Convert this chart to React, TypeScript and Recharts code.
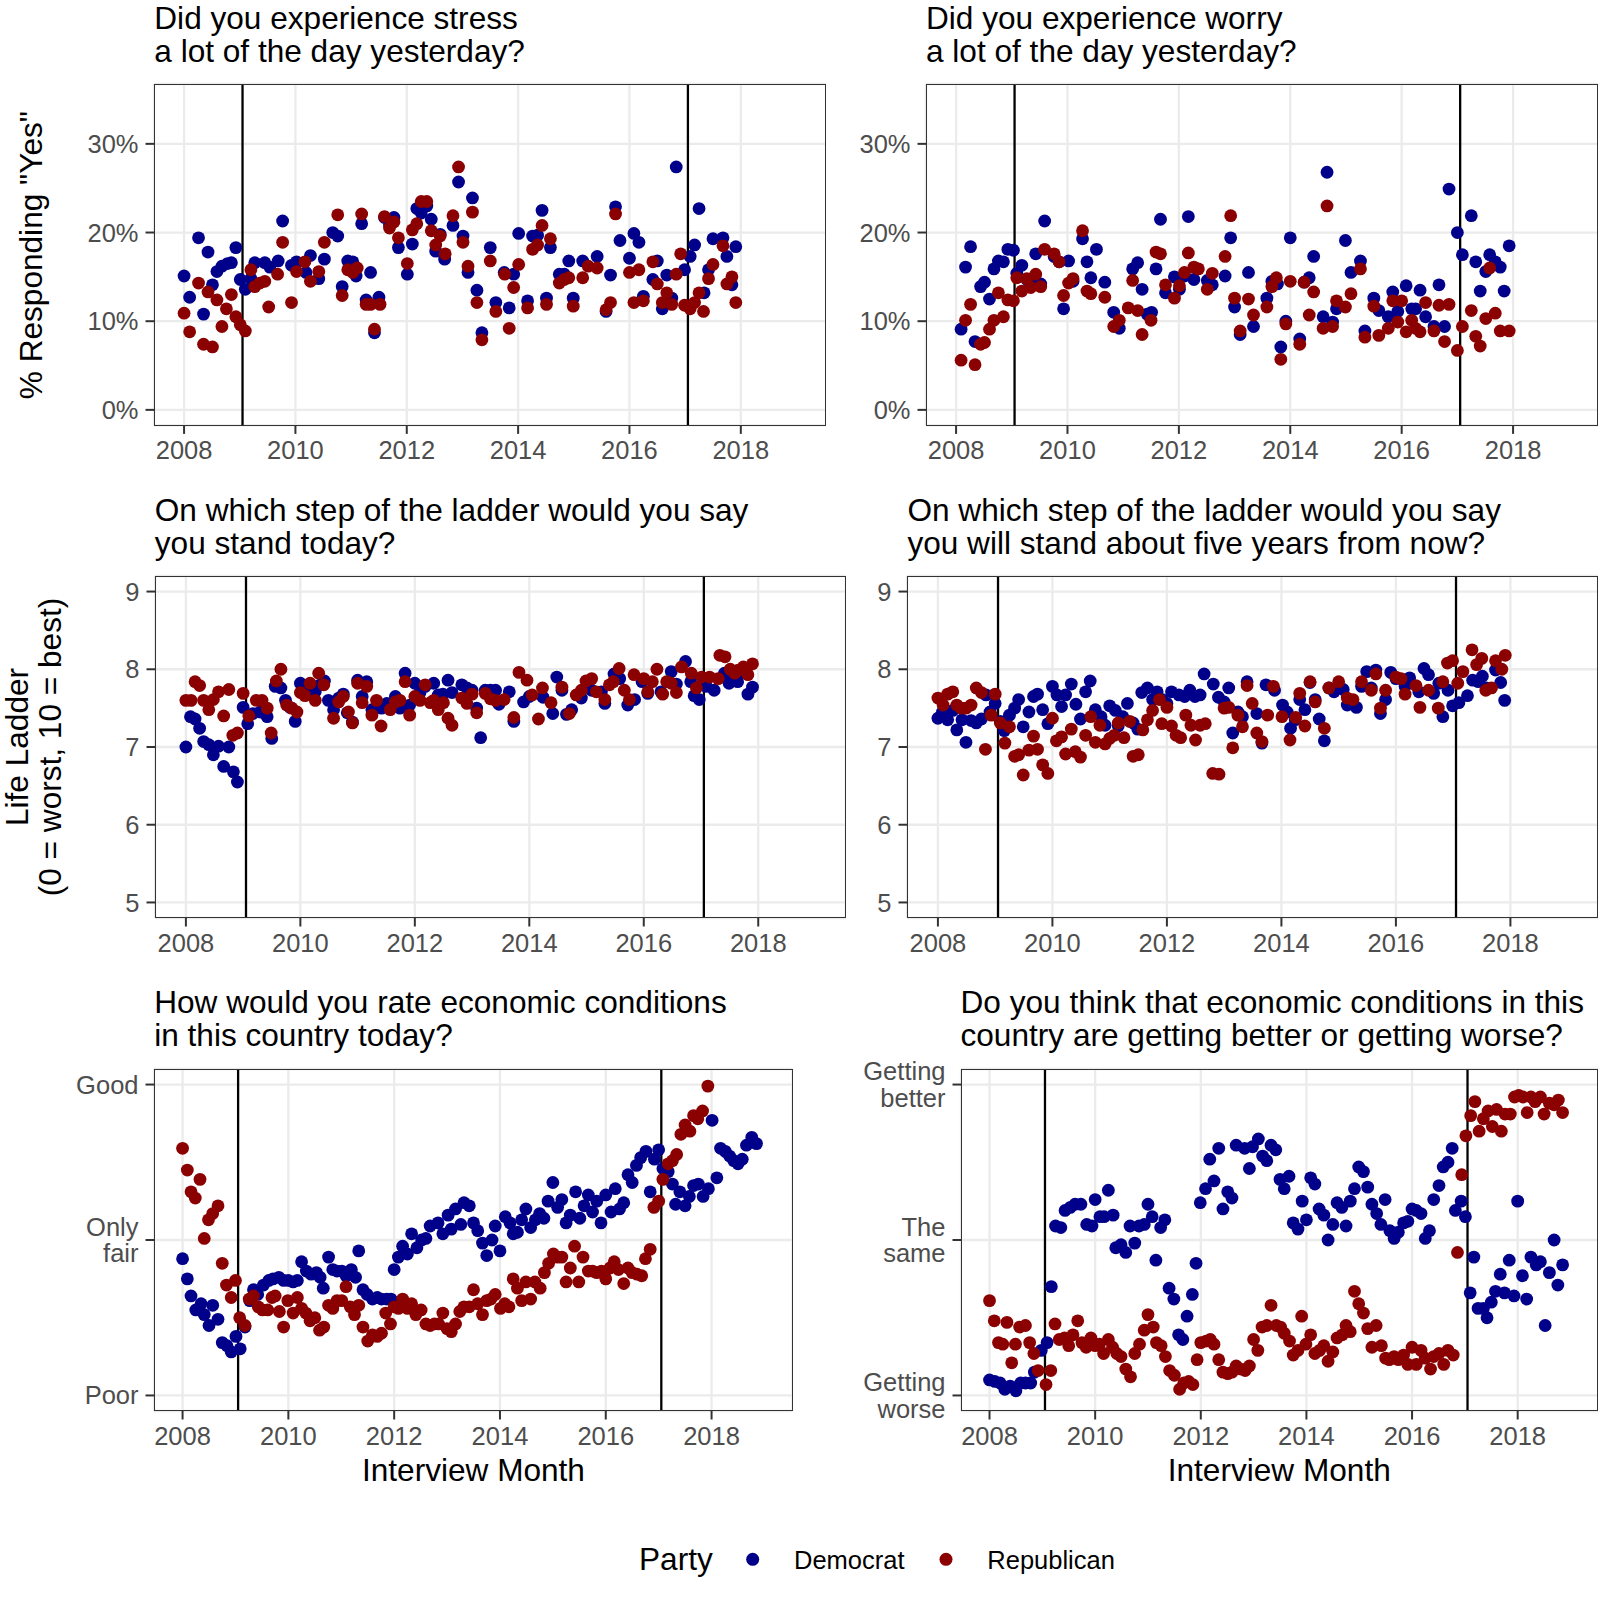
import React from 'react';
import { ScatterChart, Scatter, XAxis, YAxis, CartesianGrid, ReferenceLine } from 'recharts';

const FONT = '"Liberation Sans", Arial, Helvetica, sans-serif';
const DEM = '#00008B';
const REP = '#8B0000';
const X_DOMAIN: [number, number] = [2007.46, 2019.53];
const X_TICKS = [2008, 2010, 2012, 2014, 2016, 2018];
const X_MINOR = [2009, 2011, 2013, 2015, 2017, 2019];
const INAUGURATIONS = [2009.05, 2017.05];

const PCT_DOMAIN: [number, number] = [-1.75, 36.75];
const PCT_TICKS = [0, 10, 20, 30];
const PCT_MINOR = [5, 15, 25, 35];
const LADDER_DOMAIN: [number, number] = [4.8, 9.2];
const LADDER_TICKS = [5, 6, 7, 8, 9];
const LADDER_MINOR = [5.5, 6.5, 7.5, 8.5];
const ECON_DOMAIN: [number, number] = [0.9, 3.1];
const ECON_TICKS = [1, 2, 3];
const ECON_MINOR = [1.5, 2.5];
const ECON_NOW_LABELS: Record<number, string[]> = { 1: ['Poor'], 2: ['Only', 'fair'], 3: ['Good'] };
const ECON_DIR_LABELS: Record<number, string[]> = { 1: ['Getting', 'worse'], 2: ['The', 'same'], 3: ['Getting', 'better'] };

// Panel 1: stress (% yes)
const stressDem: [number, number][] = [[2008.00,15.1],[2008.10,12.7],[2008.26,19.4],[2008.35,10.8],[2008.43,17.8],[2008.51,14.1],[2008.59,15.6],[2008.68,16.2],[2008.78,16.5],[2008.85,16.6],[2008.93,18.3],[2009.01,14.7],[2009.10,13.6],[2009.20,14.8],[2009.27,16.6],[2009.45,16.6],[2009.54,16.1],[2009.69,16.8],[2009.77,21.3],[2009.93,16.3],[2010.02,16.7],[2010.19,15.5],[2010.27,17.4],[2010.42,14.8],[2010.52,17.0],[2010.67,20.0],[2010.76,19.6],[2010.84,13.9],[2010.94,16.8],[2011.03,16.7],[2011.09,15.1],[2011.19,21.0],[2011.27,12.4],[2011.35,15.5],[2011.42,8.7],[2011.50,12.7],[2011.60,21.7],[2011.69,20.9],[2011.77,21.7],[2011.85,18.3],[2012.01,15.3],[2012.10,18.7],[2012.18,22.7],[2012.26,22.2],[2012.36,23.0],[2012.44,21.5],[2012.52,17.9],[2012.60,19.8],[2012.68,17.0],[2012.83,20.8],[2012.93,25.7],[2013.01,19.6],[2013.10,15.5],[2013.18,23.9],[2013.26,13.5],[2013.35,8.7],[2013.50,18.3],[2013.60,12.1],[2013.75,15.5],[2013.84,11.5],[2013.92,15.3],[2014.01,19.9],[2014.17,12.3],[2014.26,19.6],[2014.35,19.7],[2014.43,22.5],[2014.51,12.6],[2014.58,18.3],[2014.74,15.3],[2014.83,15.3],[2014.91,16.8],[2014.99,12.6],[2015.16,16.8],[2015.42,17.3],[2015.58,11.1],[2015.66,15.2],[2015.75,22.9],[2015.83,19.1],[2016.00,17.1],[2016.08,19.9],[2016.17,18.9],[2016.25,12.8],[2016.42,14.7],[2016.50,16.8],[2016.59,11.4],[2016.67,15.2],[2016.76,12.6],[2016.84,27.4],[2016.99,15.8],[2017.09,17.3],[2017.17,18.6],[2017.25,22.7],[2017.34,13.2],[2017.42,15.8],[2017.50,19.3],[2017.68,19.4],[2017.75,17.3],[2017.84,14.1],[2017.91,18.4]];
const stressRep: [number, number][] = [[2008.00,10.9],[2008.10,8.8],[2008.26,14.3],[2008.35,7.4],[2008.43,13.3],[2008.51,7.1],[2008.59,12.4],[2008.68,9.4],[2008.76,11.4],[2008.85,13.0],[2008.93,10.5],[2009.01,9.6],[2009.10,8.9],[2009.20,15.8],[2009.27,13.9],[2009.36,14.3],[2009.45,14.5],[2009.52,11.6],[2009.68,15.3],[2009.77,18.9],[2009.93,12.1],[2010.02,15.6],[2010.17,16.7],[2010.27,14.5],[2010.42,15.6],[2010.52,18.9],[2010.76,22.0],[2010.84,12.9],[2010.94,15.8],[2011.03,15.5],[2011.11,16.0],[2011.19,22.1],[2011.27,11.9],[2011.35,11.9],[2011.42,9.1],[2011.52,11.9],[2011.60,21.8],[2011.69,20.5],[2011.77,21.2],[2011.85,19.4],[2012.01,16.5],[2012.10,20.3],[2012.18,21.0],[2012.26,23.5],[2012.36,23.5],[2012.44,20.2],[2012.52,18.6],[2012.60,19.6],[2012.69,17.6],[2012.83,21.9],[2012.93,27.4],[2013.01,18.9],[2013.10,16.2],[2013.18,22.3],[2013.26,12.1],[2013.35,7.9],[2013.50,16.8],[2013.60,11.1],[2013.76,15.3],[2013.84,9.2],[2013.92,13.8],[2014.01,16.4],[2014.17,11.5],[2014.26,18.1],[2014.35,18.6],[2014.43,20.8],[2014.51,11.9],[2014.58,19.3],[2014.74,14.3],[2014.83,14.7],[2014.91,14.9],[2014.99,11.7],[2015.16,14.9],[2015.26,16.2],[2015.42,16.0],[2015.58,11.3],[2015.66,12.1],[2015.75,22.1],[2016.00,15.5],[2016.08,12.1],[2016.17,15.8],[2016.25,12.3],[2016.42,16.7],[2016.50,14.2],[2016.59,12.1],[2016.67,13.2],[2016.76,11.9],[2016.84,15.3],[2016.92,17.6],[2016.99,11.8],[2017.09,11.4],[2017.17,12.1],[2017.25,13.2],[2017.33,11.1],[2017.42,14.8],[2017.50,16.4],[2017.68,18.5],[2017.75,14.2],[2017.84,15.0],[2017.91,12.1]];

// Panel 2: worry (% yes)
const worryDem: [number, number][] = [[2008.09,9.1],[2008.17,16.1],[2008.26,18.4],[2008.34,7.7],[2008.44,13.9],[2008.51,14.4],[2008.60,12.5],[2008.68,15.9],[2008.76,16.8],[2008.85,16.7],[2008.93,18.1],[2009.03,18.0],[2009.09,15.4],[2009.18,16.3],[2009.27,14.7],[2009.34,14.2],[2009.43,17.6],[2009.52,14.2],[2009.59,21.3],[2009.76,17.3],[2009.85,16.7],[2009.93,11.4],[2010.02,16.8],[2010.10,14.5],[2010.27,19.3],[2010.35,16.7],[2010.42,14.9],[2010.52,18.1],[2010.67,14.4],[2010.83,11.0],[2010.93,9.2],[2011.17,15.9],[2011.26,16.6],[2011.34,13.6],[2011.43,10.8],[2011.51,11.0],[2011.59,15.9],[2011.67,21.5],[2011.76,13.2],[2011.92,15.0],[2012.01,13.6],[2012.10,15.1],[2012.17,21.8],[2012.27,14.7],[2012.51,14.6],[2012.60,14.1],[2012.83,15.1],[2012.93,19.4],[2013.00,11.6],[2013.10,8.5],[2013.25,15.5],[2013.34,9.4],[2013.58,12.6],[2013.67,14.5],[2013.77,14.2],[2013.83,7.1],[2013.92,10.0],[2014.00,19.4],[2014.17,8.0],[2014.25,14.4],[2014.34,14.9],[2014.42,17.3],[2014.59,10.5],[2014.66,26.8],[2014.76,9.9],[2014.83,11.4],[2014.99,19.1],[2015.09,15.5],[2015.26,16.8],[2015.34,8.9],[2015.50,12.6],[2015.59,11.2],[2015.76,10.5],[2015.84,13.3],[2015.93,11.1],[2016.08,14.0],[2016.18,11.4],[2016.25,11.4],[2016.33,13.5],[2016.43,10.5],[2016.58,9.4],[2016.67,14.1],[2016.77,9.4],[2016.85,24.9],[2017.00,20.0],[2017.09,17.5],[2017.25,21.9],[2017.33,16.7],[2017.41,13.4],[2017.51,15.6],[2017.58,17.5],[2017.68,16.7],[2017.77,16.1],[2017.84,13.4],[2017.93,18.5]];
const worryRep: [number, number][] = [[2008.09,5.6],[2008.17,10.1],[2008.26,11.9],[2008.34,5.1],[2008.44,7.4],[2008.51,7.6],[2008.60,9.1],[2008.68,10.1],[2008.76,13.2],[2008.85,10.5],[2008.93,12.4],[2009.03,12.3],[2009.09,14.9],[2009.18,13.4],[2009.27,14.8],[2009.34,13.8],[2009.43,15.3],[2009.52,13.9],[2009.59,18.1],[2009.76,17.6],[2009.85,16.7],[2009.93,12.9],[2010.02,14.3],[2010.10,14.8],[2010.27,20.2],[2010.35,13.4],[2010.42,13.1],[2010.67,12.7],[2010.83,9.4],[2010.93,10.1],[2011.09,11.5],[2011.17,14.6],[2011.26,11.2],[2011.34,8.5],[2011.50,10.1],[2011.59,17.8],[2011.67,17.6],[2011.76,14.1],[2011.92,12.6],[2012.01,14.0],[2012.10,15.5],[2012.17,17.7],[2012.27,16.1],[2012.35,15.9],[2012.51,13.6],[2012.60,15.4],[2012.83,17.3],[2012.93,21.9],[2013.00,12.6],[2013.10,8.9],[2013.25,12.5],[2013.34,10.7],[2013.58,11.6],[2013.67,13.9],[2013.75,14.9],[2013.83,5.7],[2013.92,9.7],[2014.00,14.5],[2014.17,7.4],[2014.25,14.4],[2014.34,10.7],[2014.42,13.3],[2014.59,9.2],[2014.66,23.0],[2014.76,9.4],[2014.83,12.3],[2014.99,11.6],[2015.09,13.1],[2015.26,15.9],[2015.34,8.2],[2015.50,11.7],[2015.59,8.4],[2015.76,9.2],[2015.84,12.3],[2015.93,9.9],[2016.00,12.3],[2016.08,8.8],[2016.18,10.1],[2016.25,9.2],[2016.33,8.8],[2016.43,12.1],[2016.58,8.9],[2016.67,11.8],[2016.77,7.7],[2016.85,11.9],[2017.00,6.7],[2017.09,9.4],[2017.25,11.2],[2017.33,8.3],[2017.41,7.2],[2017.51,10.3],[2017.58,16.0],[2017.68,10.9],[2017.77,8.9],[2017.93,8.9]];

// Panel 3: life ladder today
const ladderNowDem: [number, number][] = [[2008.00,7.00],[2008.08,7.39],[2008.16,7.36],[2008.24,7.24],[2008.31,7.07],[2008.40,7.03],[2008.48,6.90],[2008.57,7.01],[2008.66,6.75],[2008.75,7.00],[2008.83,6.68],[2008.90,6.55],[2009.00,7.51],[2009.08,7.30],[2009.17,7.43],[2009.30,7.45],[2009.42,7.39],[2009.50,7.11],[2009.56,7.78],[2009.66,7.76],[2009.74,7.60],[2009.82,7.51],[2009.91,7.33],[2010.00,7.82],[2010.08,7.73],[2010.17,7.80],[2010.26,7.71],[2010.35,7.80],[2010.42,7.85],[2010.49,7.60],[2010.58,7.48],[2010.67,7.63],[2010.75,7.68],[2010.82,7.44],[2010.91,7.32],[2011.00,7.86],[2011.08,7.65],[2011.16,7.84],[2011.25,7.48],[2011.34,7.51],[2011.42,7.50],[2011.51,7.56],[2011.57,7.50],[2011.66,7.65],[2011.74,7.50],[2011.83,7.95],[2011.91,7.54],[2012.00,7.82],[2012.09,7.70],[2012.18,7.78],[2012.33,7.82],[2012.41,7.67],[2012.49,7.68],[2012.58,7.86],[2012.65,7.70],[2012.82,7.80],[2012.91,7.76],[2013.00,7.73],[2013.08,7.50],[2013.15,7.12],[2013.23,7.73],[2013.32,7.73],[2013.41,7.73],[2013.47,7.55],[2013.65,7.71],[2013.73,7.33],[2013.90,7.58],[2014.00,7.65],[2014.24,7.64],[2014.41,7.43],[2014.48,7.90],[2014.57,7.73],[2014.65,7.42],[2014.74,7.48],[2014.91,7.63],[2015.09,7.73],[2015.26,7.71],[2015.32,7.56],[2015.48,7.94],[2015.58,7.88],[2015.72,7.54],[2015.84,7.61],[2015.97,7.84],[2016.07,7.69],[2016.30,7.71],[2016.48,7.97],[2016.57,7.81],[2016.73,8.10],[2016.82,7.84],[2016.88,7.66],[2016.97,7.61],[2017.09,7.78],[2017.23,7.73],[2017.41,7.95],[2017.49,7.82],[2017.64,7.84],[2017.74,7.96],[2017.82,7.68],[2017.90,7.77]];
const ladderNowRep: [number, number][] = [[2008.00,7.60],[2008.09,7.60],[2008.16,7.84],[2008.24,7.79],[2008.31,7.60],[2008.40,7.48],[2008.48,7.61],[2008.57,7.71],[2008.66,7.40],[2008.75,7.74],[2008.82,7.15],[2008.90,7.18],[2009.00,7.69],[2009.10,7.40],[2009.23,7.60],[2009.33,7.60],[2009.42,7.50],[2009.49,7.18],[2009.58,7.85],[2009.66,8.00],[2009.76,7.54],[2009.85,7.50],[2009.94,7.45],[2010.00,7.70],[2010.08,7.66],[2010.17,7.82],[2010.26,7.60],[2010.32,7.95],[2010.41,7.80],[2010.58,7.37],[2010.67,7.58],[2010.75,7.65],[2010.84,7.45],[2010.91,7.31],[2011.00,7.82],[2011.08,7.57],[2011.16,7.78],[2011.25,7.41],[2011.33,7.60],[2011.41,7.27],[2011.57,7.48],[2011.66,7.58],[2011.74,7.60],[2011.83,7.84],[2011.91,7.41],[2012.00,7.65],[2012.09,7.60],[2012.18,7.80],[2012.27,7.57],[2012.33,7.60],[2012.41,7.48],[2012.50,7.57],[2012.58,7.37],[2012.65,7.28],[2012.82,7.63],[2012.91,7.56],[2013.00,7.68],[2013.08,7.44],[2013.23,7.69],[2013.32,7.62],[2013.41,7.60],[2013.56,7.61],[2013.73,7.38],[2013.82,7.96],[2013.96,7.86],[2014.05,7.67],[2014.16,7.36],[2014.23,7.76],[2014.38,7.57],[2014.57,7.77],[2014.70,7.43],[2014.82,7.67],[2014.91,7.73],[2014.99,7.85],[2015.09,7.88],[2015.17,7.71],[2015.32,7.61],[2015.40,7.80],[2015.47,7.84],[2015.57,8.01],[2015.66,7.73],[2015.75,7.61],[2015.83,7.93],[2016.00,7.88],[2016.07,7.71],[2016.15,7.84],[2016.23,8.00],[2016.33,7.68],[2016.40,7.84],[2016.48,7.82],[2016.57,7.70],[2016.66,8.03],[2016.83,7.95],[2016.92,7.76],[2017.01,7.90],[2017.15,7.90],[2017.30,7.88],[2017.33,8.18],[2017.42,8.16],[2017.51,8.00],[2017.59,7.95],[2017.65,7.99],[2017.74,8.03],[2017.82,7.93],[2017.90,8.07]];

// Panel 4: life ladder in five years
const ladderFutDem: [number, number][] = [[2008.00,7.37],[2008.08,7.45],[2008.17,7.35],[2008.26,7.47],[2008.33,7.22],[2008.42,7.35],[2008.49,7.06],[2008.58,7.34],[2008.67,7.31],[2008.76,7.36],[2008.84,7.67],[2008.91,7.45],[2009.00,7.56],[2009.09,7.33],[2009.16,7.21],[2009.25,7.41],[2009.34,7.50],[2009.41,7.61],[2009.49,7.26],[2009.59,7.45],[2009.67,7.65],[2009.74,7.68],[2009.83,7.48],[2009.92,7.30],[2010.00,7.78],[2010.08,7.67],[2010.16,7.52],[2010.23,7.67],[2010.33,7.81],[2010.41,7.55],[2010.49,7.36],[2010.58,7.71],[2010.66,7.85],[2010.75,7.48],[2010.85,7.39],[2010.92,7.28],[2011.00,7.53],[2011.10,7.47],[2011.15,7.27],[2011.23,7.39],[2011.31,7.56],[2011.41,7.31],[2011.49,7.23],[2011.56,7.70],[2011.66,7.76],[2011.75,7.61],[2011.83,7.71],[2011.92,7.61],[2012.00,7.56],[2012.08,7.71],[2012.21,7.67],[2012.31,7.65],[2012.40,7.73],[2012.49,7.65],[2012.58,7.67],[2012.65,7.94],[2012.81,7.81],[2012.90,7.64],[2013.00,7.58],[2013.08,7.76],[2013.15,7.18],[2013.24,7.45],[2013.32,7.39],[2013.40,7.84],[2013.57,7.43],[2013.66,7.05],[2013.73,7.80],[2013.88,7.73],[2014.02,7.54],[2014.10,7.45],[2014.16,7.24],[2014.24,7.35],[2014.32,7.61],[2014.41,7.48],[2014.50,7.83],[2014.59,7.61],[2014.66,7.36],[2014.75,7.08],[2014.83,7.76],[2014.92,7.71],[2015.08,7.74],[2015.15,7.54],[2015.31,7.51],[2015.40,7.78],[2015.49,7.97],[2015.57,7.76],[2015.65,7.99],[2015.73,7.43],[2015.82,7.61],[2015.91,7.96],[2016.00,7.88],[2016.16,7.78],[2016.24,7.89],[2016.40,7.71],[2016.49,8.01],[2016.57,7.93],[2016.66,7.69],[2016.75,7.82],[2016.82,7.39],[2016.91,7.73],[2016.99,7.53],[2017.10,7.57],[2017.25,7.66],[2017.34,7.86],[2017.44,7.84],[2017.51,7.91],[2017.58,7.76],[2017.74,7.99],[2017.83,7.83],[2017.90,7.60]];
const ladderFutRep: [number, number][] = [[2008.00,7.63],[2008.09,7.54],[2008.17,7.68],[2008.26,7.71],[2008.33,7.54],[2008.41,7.50],[2008.49,7.50],[2008.58,7.54],[2008.67,7.76],[2008.76,7.70],[2008.83,6.97],[2008.93,7.41],[2009.00,7.68],[2009.09,7.31],[2009.17,7.05],[2009.25,7.26],[2009.34,6.88],[2009.41,6.90],[2009.49,6.64],[2009.59,6.96],[2009.67,7.14],[2009.74,6.97],[2009.83,6.77],[2009.92,6.66],[2010.00,7.37],[2010.07,7.08],[2010.16,7.13],[2010.23,6.91],[2010.33,7.23],[2010.40,6.94],[2010.49,6.87],[2010.58,7.15],[2010.67,7.39],[2010.75,7.06],[2010.83,7.28],[2010.92,7.04],[2011.00,7.11],[2011.08,7.15],[2011.15,7.31],[2011.25,7.12],[2011.35,7.33],[2011.41,6.88],[2011.50,6.90],[2011.58,7.22],[2011.66,7.35],[2011.75,7.47],[2011.87,7.61],[2011.91,7.30],[2012.00,7.51],[2012.08,7.27],[2012.16,7.15],[2012.24,7.12],[2012.33,7.41],[2012.42,7.28],[2012.50,7.09],[2012.58,7.28],[2012.67,7.30],[2012.80,6.66],[2012.91,6.65],[2013.00,7.50],[2013.08,7.51],[2013.15,6.99],[2013.24,7.41],[2013.32,7.26],[2013.40,7.79],[2013.49,7.56],[2013.57,7.18],[2013.66,7.07],[2013.76,7.41],[2013.86,7.78],[2014.01,7.39],[2014.15,7.09],[2014.25,7.38],[2014.32,7.69],[2014.41,7.27],[2014.50,7.84],[2014.59,7.58],[2014.75,7.24],[2014.83,7.76],[2015.00,7.84],[2015.15,7.63],[2015.25,7.61],[2015.40,7.84],[2015.57,7.73],[2015.65,7.94],[2015.73,7.50],[2015.82,7.73],[2016.00,7.90],[2016.09,7.88],[2016.16,7.68],[2016.35,7.79],[2016.42,7.51],[2016.57,7.73],[2016.74,7.50],[2016.82,7.84],[2016.90,8.08],[2016.99,8.11],[2017.08,7.82],[2017.17,7.97],[2017.33,8.25],[2017.41,8.06],[2017.50,8.14],[2017.57,7.73],[2017.67,7.76],[2017.74,8.11],[2017.85,8.00],[2017.91,8.18]];

// Panel 5: economic conditions today (1 = Poor, 2 = Only fair, 3 = Good)
const econNowDem: [number, number][] = [[2008.00,1.88],[2008.09,1.75],[2008.16,1.64],[2008.25,1.55],[2008.35,1.59],[2008.41,1.52],[2008.50,1.45],[2008.57,1.58],[2008.67,1.49],[2008.75,1.34],[2008.84,1.32],[2008.92,1.28],[2009.01,1.38],[2009.09,1.30],[2009.18,1.44],[2009.27,1.61],[2009.34,1.68],[2009.42,1.65],[2009.53,1.71],[2009.63,1.74],[2009.71,1.75],[2009.82,1.76],[2009.91,1.74],[2010.00,1.74],[2010.09,1.73],[2010.17,1.74],[2010.25,1.86],[2010.34,1.80],[2010.43,1.78],[2010.53,1.79],[2010.60,1.76],[2010.66,1.69],[2010.76,1.89],[2010.84,1.81],[2010.92,1.80],[2011.01,1.80],[2011.09,1.77],[2011.19,1.81],[2011.27,1.76],[2011.33,1.93],[2011.41,1.68],[2011.49,1.65],[2011.59,1.62],[2011.68,1.63],[2011.76,1.62],[2011.86,1.62],[2011.94,1.62],[2012.00,1.81],[2012.08,1.89],[2012.16,1.96],[2012.25,1.91],[2012.33,2.04],[2012.43,1.95],[2012.52,2.00],[2012.60,2.01],[2012.68,2.09],[2012.83,2.11],[2012.92,2.04],[2013.02,2.16],[2013.08,2.07],[2013.16,2.20],[2013.26,2.10],[2013.32,2.24],[2013.42,2.22],[2013.50,2.11],[2013.58,2.06],[2013.67,1.98],[2013.75,1.90],[2013.85,2.00],[2013.91,2.09],[2014.00,1.93],[2014.10,2.15],[2014.19,2.11],[2014.25,2.04],[2014.33,2.05],[2014.41,2.13],[2014.49,2.20],[2014.58,2.08],[2014.67,2.13],[2014.75,2.17],[2014.83,2.14],[2014.91,2.25],[2015.00,2.37],[2015.09,2.21],[2015.17,2.26],[2015.25,2.11],[2015.33,2.16],[2015.43,2.31],[2015.51,2.14],[2015.59,2.22],[2015.67,2.29],[2015.75,2.18],[2015.83,2.25],[2015.91,2.11],[2016.00,2.29],[2016.10,2.18],[2016.18,2.33],[2016.26,2.20],[2016.34,2.24],[2016.42,2.42],[2016.50,2.37],[2016.58,2.48],[2016.66,2.53],[2016.76,2.57],[2016.84,2.31],[2016.92,2.52],[2017.00,2.58],[2017.08,2.46],[2017.18,2.44],[2017.26,2.36],[2017.32,2.23],[2017.40,2.31],[2017.50,2.22],[2017.58,2.28],[2017.66,2.35],[2017.75,2.36],[2017.84,2.28],[2017.94,2.33],[2018.01,2.77],[2018.10,2.40],[2018.17,2.59],[2018.26,2.57],[2018.34,2.54],[2018.42,2.51],[2018.50,2.49],[2018.58,2.52],[2018.66,2.61],[2018.76,2.66],[2018.85,2.62]];
const econNowRep: [number, number][] = [[2008.00,2.59],[2008.09,2.45],[2008.16,2.31],[2008.24,2.27],[2008.33,2.39],[2008.41,2.01],[2008.49,2.13],[2008.57,2.17],[2008.67,2.22],[2008.75,1.85],[2008.83,1.71],[2008.92,1.63],[2009.00,1.74],[2009.08,1.50],[2009.18,1.45],[2009.26,1.62],[2009.34,1.64],[2009.43,1.57],[2009.51,1.55],[2009.61,1.55],[2009.69,1.63],[2009.75,1.64],[2009.83,1.54],[2009.91,1.44],[2009.99,1.61],[2010.09,1.53],[2010.17,1.63],[2010.25,1.56],[2010.33,1.53],[2010.41,1.48],[2010.50,1.50],[2010.59,1.42],[2010.67,1.44],[2010.76,1.58],[2010.84,1.56],[2010.92,1.61],[2011.01,1.61],[2011.09,1.70],[2011.17,1.57],[2011.25,1.52],[2011.33,1.58],[2011.41,1.44],[2011.50,1.35],[2011.59,1.39],[2011.68,1.38],[2011.76,1.40],[2011.84,1.53],[2011.93,1.46],[2012.00,1.57],[2012.08,1.56],[2012.16,1.62],[2012.25,1.56],[2012.33,1.59],[2012.41,1.52],[2012.51,1.55],[2012.60,1.46],[2012.68,1.45],[2012.76,1.46],[2012.84,1.46],[2012.92,1.53],[2013.00,1.43],[2013.08,1.41],[2013.16,1.46],[2013.24,1.54],[2013.32,1.57],[2013.42,1.57],[2013.50,1.68],[2013.58,1.59],[2013.67,1.52],[2013.75,1.61],[2013.83,1.62],[2013.91,1.65],[2014.01,1.56],[2014.09,1.59],[2014.17,1.57],[2014.25,1.75],[2014.33,1.69],[2014.41,1.61],[2014.49,1.73],[2014.58,1.62],[2014.66,1.73],[2014.76,1.69],[2014.84,1.79],[2014.92,1.85],[2015.01,1.91],[2015.09,1.89],[2015.17,1.89],[2015.25,1.73],[2015.33,1.82],[2015.41,1.96],[2015.49,1.73],[2015.57,1.89],[2015.67,1.80],[2015.75,1.80],[2015.83,1.79],[2015.92,1.80],[2016.00,1.75],[2016.08,1.82],[2016.16,1.86],[2016.24,1.81],[2016.34,1.72],[2016.42,1.82],[2016.50,1.79],[2016.59,1.78],[2016.68,1.77],[2016.75,1.88],[2016.84,1.94],[2016.91,2.21],[2017.00,2.25],[2017.08,2.39],[2017.18,2.49],[2017.26,2.51],[2017.34,2.55],[2017.42,2.68],[2017.50,2.74],[2017.59,2.70],[2017.66,2.80],[2017.74,2.78],[2017.83,2.83],[2017.93,2.99]];

// Panel 6: economy getting better/worse (1 = worse, 2 = same, 3 = better)
const econDirDem: [number, number][] = [[2008.00,1.10],[2008.10,1.09],[2008.20,1.08],[2008.29,1.04],[2008.39,1.06],[2008.50,1.03],[2008.59,1.08],[2008.68,1.08],[2008.78,1.08],[2008.85,1.15],[2008.98,1.29],[2009.09,1.34],[2009.17,1.70],[2009.25,2.09],[2009.35,2.08],[2009.43,2.19],[2009.53,2.21],[2009.62,2.23],[2009.73,2.23],[2009.84,2.10],[2009.94,2.09],[2010.00,2.26],[2010.09,2.15],[2010.17,2.15],[2010.25,2.32],[2010.34,2.16],[2010.39,1.95],[2010.49,1.97],[2010.58,1.92],[2010.66,2.09],[2010.75,1.98],[2010.83,2.09],[2010.93,2.10],[2011.00,2.23],[2011.08,2.15],[2011.15,1.87],[2011.24,2.08],[2011.32,2.13],[2011.40,1.69],[2011.49,1.62],[2011.58,1.39],[2011.66,1.36],[2011.74,1.51],[2011.84,1.65],[2011.91,1.85],[2011.99,2.24],[2012.09,2.33],[2012.17,2.52],[2012.25,2.38],[2012.34,2.59],[2012.42,2.20],[2012.51,2.31],[2012.59,2.27],[2012.67,2.61],[2012.83,2.59],[2012.92,2.46],[2012.98,2.60],[2013.09,2.65],[2013.17,2.54],[2013.25,2.51],[2013.33,2.61],[2013.42,2.58],[2013.50,2.39],[2013.58,2.33],[2013.67,2.41],[2013.75,2.11],[2013.84,2.07],[2013.92,2.25],[2014.00,2.13],[2014.08,2.40],[2014.16,2.36],[2014.24,2.20],[2014.33,2.16],[2014.41,2.00],[2014.50,2.10],[2014.58,2.24],[2014.67,2.21],[2014.75,2.09],[2014.83,2.25],[2014.91,2.33],[2014.99,2.47],[2015.08,2.44],[2015.16,2.34],[2015.24,2.23],[2015.33,2.17],[2015.41,2.10],[2015.49,2.26],[2015.58,2.06],[2015.66,2.01],[2015.74,2.05],[2015.84,2.11],[2015.92,2.12],[2016.00,2.20],[2016.08,2.19],[2016.17,2.17],[2016.25,2.01],[2016.33,2.06],[2016.41,2.26],[2016.51,2.35],[2016.59,2.47],[2016.68,2.50],[2016.76,2.59],[2016.82,2.19],[2016.93,2.25],[2017.01,2.15],[2017.10,1.66],[2017.17,1.89],[2017.25,1.56],[2017.35,1.56],[2017.42,1.50],[2017.50,1.60],[2017.58,1.67],[2017.67,1.78],[2017.75,1.66],[2017.84,1.87],[2017.93,1.64],[2018.00,2.25],[2018.09,1.77],[2018.17,1.62],[2018.25,1.89],[2018.35,1.84],[2018.43,1.86],[2018.52,1.45],[2018.60,1.79],[2018.69,2.00],[2018.76,1.71],[2018.85,1.84]];
const econDirRep: [number, number][] = [[2008.00,1.61],[2008.09,1.48],[2008.17,1.34],[2008.25,1.33],[2008.33,1.47],[2008.42,1.21],[2008.49,1.33],[2008.57,1.44],[2008.68,1.45],[2008.76,1.34],[2008.84,1.27],[2008.92,1.16],[2009.07,1.07],[2009.16,1.16],[2009.24,1.46],[2009.32,1.36],[2009.42,1.37],[2009.50,1.32],[2009.58,1.39],[2009.67,1.48],[2009.75,1.34],[2009.83,1.31],[2009.92,1.37],[2010.00,1.32],[2010.08,1.33],[2010.16,1.27],[2010.25,1.36],[2010.33,1.31],[2010.41,1.27],[2010.49,1.25],[2010.58,1.17],[2010.67,1.12],[2010.75,1.27],[2010.84,1.33],[2010.93,1.42],[2011.00,1.52],[2011.10,1.44],[2011.16,1.34],[2011.25,1.32],[2011.33,1.25],[2011.41,1.16],[2011.50,1.13],[2011.60,1.04],[2011.68,1.08],[2011.77,1.09],[2011.85,1.07],[2011.93,1.23],[2012.00,1.34],[2012.10,1.35],[2012.18,1.36],[2012.25,1.33],[2012.34,1.23],[2012.42,1.15],[2012.51,1.14],[2012.59,1.15],[2012.67,1.19],[2012.76,1.17],[2012.84,1.16],[2012.92,1.19],[2013.00,1.36],[2013.08,1.29],[2013.16,1.44],[2013.25,1.45],[2013.33,1.58],[2013.43,1.45],[2013.51,1.44],[2013.58,1.40],[2013.68,1.35],[2013.75,1.26],[2013.84,1.29],[2013.91,1.51],[2013.99,1.33],[2014.08,1.39],[2014.16,1.27],[2014.25,1.29],[2014.33,1.32],[2014.41,1.22],[2014.50,1.28],[2014.58,1.37],[2014.68,1.39],[2014.75,1.45],[2014.83,1.41],[2014.91,1.67],[2014.99,1.59],[2015.08,1.53],[2015.16,1.43],[2015.24,1.31],[2015.32,1.45],[2015.42,1.32],[2015.50,1.24],[2015.57,1.23],[2015.66,1.25],[2015.74,1.23],[2015.84,1.26],[2015.92,1.20],[2016.00,1.31],[2016.08,1.20],[2016.17,1.29],[2016.25,1.24],[2016.35,1.17],[2016.41,1.25],[2016.51,1.27],[2016.60,1.20],[2016.68,1.29],[2016.78,1.26],[2016.86,1.92],[2016.94,2.42],[2017.02,2.67],[2017.11,2.80],[2017.19,2.89],[2017.27,2.70],[2017.35,2.78],[2017.44,2.83],[2017.52,2.73],[2017.60,2.84],[2017.69,2.70],[2017.76,2.81],[2017.86,2.81],[2017.94,2.92],[2018.02,2.93],[2018.10,2.92],[2018.18,2.82],[2018.25,2.92],[2018.33,2.89],[2018.43,2.92],[2018.50,2.81],[2018.60,2.88],[2018.69,2.87],[2018.77,2.90],[2018.85,2.82]];

const toPts = (arr: [number, number][]) => arr.map(([x, y]) => ({ x, y }));

const dot = (color: string) => (p: any) => {
  if (p == null || p.cx == null || p.cy == null) return <g />;
  return <circle cx={p.cx} cy={p.cy} r={6.4} fill={color} />;
};

const multiLineTick = (labels: Record<number, string[]>) => (props: any) => {
  const { x, y, payload } = props;
  const lines = labels[payload.value] || [String(payload.value)];
  const lh = 26.5;
  const y0 = y - ((lines.length - 1) * lh) / 2 + 9;
  return (
    <text x={x} y={y0} textAnchor="end" fill="#4D4D4D" fontSize={25.5} fontFamily={FONT}>
      {lines.map((l, i) => (
        <tspan key={i} x={x} dy={i === 0 ? 0 : lh}>{l}</tspan>
      ))}
    </text>
  );
};

type Rect = { x: number; y: number; w: number; h: number };

function Panel(props: {
  rect: Rect;
  yDomain: [number, number];
  yTicks: number[];
  yMinor: number[];
  yFmt?: (v: number) => string;
  yTick?: any;
  dem: [number, number][];
  rep: [number, number][];
}) {
  const { rect, yDomain, yTicks, yMinor, yFmt, yTick, dem, rep } = props;
  const YW = 120;
  const XH = 60;
  const MT = 40;
  const W = rect.w + YW;
  const H = rect.h + XH + MT;
  const tickStyle = { fill: '#4D4D4D', fontSize: 25.5, fontFamily: FONT };
  return (
    <div style={{ position: 'absolute', left: rect.x - YW, top: rect.y - MT, width: W, height: H }}>
      <ScatterChart width={W} height={H} margin={{ top: MT, right: 0, bottom: 0, left: 0 }}>
        <CartesianGrid xAxisId="minor" yAxisId="minor" stroke="#EBEBEB" strokeWidth={1.2} fill="#FFFFFF" />
        <CartesianGrid stroke="#EBEBEB" strokeWidth={2.3} />
        <XAxis
          dataKey="x"
          type="number"
          domain={X_DOMAIN}
          ticks={X_TICKS}
          allowDataOverflow
          interval={0}
          height={XH}
          axisLine={false}
          tickLine={{ stroke: '#333333', strokeWidth: 2 }}
          tickSize={8.5}
          tickMargin={7}
          tick={tickStyle}
        />
        <XAxis
          xAxisId="minor"
          type="number"
          domain={X_DOMAIN}
          ticks={X_MINOR}
          allowDataOverflow
          interval={0}
          height={0}
          axisLine={false}
          tickLine={false}
          tick={false}
        />
        <YAxis
          dataKey="y"
          type="number"
          domain={yDomain}
          ticks={yTicks}
          allowDataOverflow
          interval={0}
          width={YW}
          axisLine={false}
          tickLine={{ stroke: '#333333', strokeWidth: 2 }}
          tickSize={8.5}
          tickMargin={7}
          tick={yTick ? yTick : tickStyle}
          tickFormatter={yFmt}
        />
        <YAxis
          yAxisId="minor"
          type="number"
          domain={yDomain}
          ticks={yMinor}
          allowDataOverflow
          interval={0}
          width={0}
          axisLine={false}
          tickLine={false}
          tick={false}
        />
        <Scatter name="Democrat" data={toPts(dem)} fill={DEM} shape={dot(DEM)} isAnimationActive={false} />
        <Scatter name="Republican" data={toPts(rep)} fill={REP} shape={dot(REP)} isAnimationActive={false} />
        {INAUGURATIONS.map((v) => (
          <ReferenceLine key={v} x={v} stroke="#000000" strokeWidth={2.3} />
        ))}
      </ScatterChart>
      <div
        style={{
          position: 'absolute',
          left: YW,
          top: MT,
          width: rect.w,
          height: rect.h,
          border: '1.4px solid #333333',
          boxSizing: 'border-box',
          pointerEvents: 'none',
        }}
      />
    </div>
  );
}

const P1: Rect = { x: 154.3, y: 84.4, w: 672, h: 341.4 };
const P2: Rect = { x: 926, y: 84.4, w: 672.3, h: 341.4 };
const P3: Rect = { x: 154.8, y: 576, w: 690.8, h: 342 };
const P4: Rect = { x: 907.4, y: 576, w: 691, h: 342 };
const P5: Rect = { x: 154.2, y: 1068.5, w: 638.5, h: 342 };
const P6: Rect = { x: 960.5, y: 1068.5, w: 637.5, h: 342 };

const TITLES: { r: Rect; lines: [string, string] }[] = [
  { r: P1, lines: ['Did you experience stress', 'a lot of the day yesterday?'] },
  { r: P2, lines: ['Did you experience worry', 'a lot of the day yesterday?'] },
  { r: P3, lines: ['On which step of the ladder would you say', 'you stand today?'] },
  { r: P4, lines: ['On which step of the ladder would you say', 'you will stand about five years from now?'] },
  { r: P5, lines: ['How would you rate economic conditions', 'in this country today?'] },
  { r: P6, lines: ['Do you think that economic conditions in this', 'country are getting better or getting worse?'] },
];

const pctFmt = (v: number) => `${v}%`;

export default function App() {
  return (
    <div style={{ position: 'absolute', left: 0, top: 0, width: 1600, height: 1600, background: '#FFFFFF', fontFamily: FONT }}>
      <Panel rect={P1} yDomain={PCT_DOMAIN} yTicks={PCT_TICKS} yMinor={PCT_MINOR} yFmt={pctFmt} dem={stressDem} rep={stressRep} />
      <Panel rect={P2} yDomain={PCT_DOMAIN} yTicks={PCT_TICKS} yMinor={PCT_MINOR} yFmt={pctFmt} dem={worryDem} rep={worryRep} />
      <Panel rect={P3} yDomain={LADDER_DOMAIN} yTicks={LADDER_TICKS} yMinor={LADDER_MINOR} dem={ladderNowDem} rep={ladderNowRep} />
      <Panel rect={P4} yDomain={LADDER_DOMAIN} yTicks={LADDER_TICKS} yMinor={LADDER_MINOR} dem={ladderFutDem} rep={ladderFutRep} />
      <Panel rect={P5} yDomain={ECON_DOMAIN} yTicks={ECON_TICKS} yMinor={ECON_MINOR} yTick={multiLineTick(ECON_NOW_LABELS)} dem={econNowDem} rep={econNowRep} />
      <Panel rect={P6} yDomain={ECON_DOMAIN} yTicks={ECON_TICKS} yMinor={ECON_MINOR} yTick={multiLineTick(ECON_DIR_LABELS)} dem={econDirDem} rep={econDirRep} />
      <svg width={1600} height={1600} style={{ position: 'absolute', left: 0, top: 0, pointerEvents: 'none' }} fontFamily={FONT}>
        {TITLES.map((t, i) => (
          <text key={i} x={t.r.x} y={t.r.y - 55.2} fontSize={31.6} fill="#000000">
            <tspan x={t.r.x} y={t.r.y - 55.2}>{t.lines[0]}</tspan>
            <tspan x={t.r.x} y={t.r.y - 22.2}>{t.lines[1]}</tspan>
          </text>
        ))}
        <text transform={`translate(42,${P1.y + P1.h / 2}) rotate(-90)`} textAnchor="middle" fontSize={31.6} fill="#000000">
          % Responding "Yes"
        </text>
        <text transform={`translate(28,${P3.y + P3.h / 2}) rotate(-90)`} textAnchor="middle" fontSize={31.6} fill="#000000">
          Life Ladder
        </text>
        <text transform={`translate(61,${P3.y + P3.h / 2}) rotate(-90)`} textAnchor="middle" fontSize={31.6} fill="#000000">
          (0 = worst, 10 = best)
        </text>
        <text x={P5.x + P5.w / 2} y={1480.5} textAnchor="middle" fontSize={31.6} fill="#000000">Interview Month</text>
        <text x={P6.x + P6.w / 2} y={1480.5} textAnchor="middle" fontSize={31.6} fill="#000000">Interview Month</text>
        <text x={639} y={1569.5} fontSize={31.6} fill="#000000">Party</text>
        <circle cx={752.7} cy={1559.3} r={6.5} fill={DEM} />
        <text x={794} y={1568.5} fontSize={25.5} fill="#000000">Democrat</text>
        <circle cx={946} cy={1559.3} r={6.5} fill={REP} />
        <text x={987.3} y={1568.5} fontSize={25.5} fill="#000000">Republican</text>
      </svg>
    </div>
  );
}
